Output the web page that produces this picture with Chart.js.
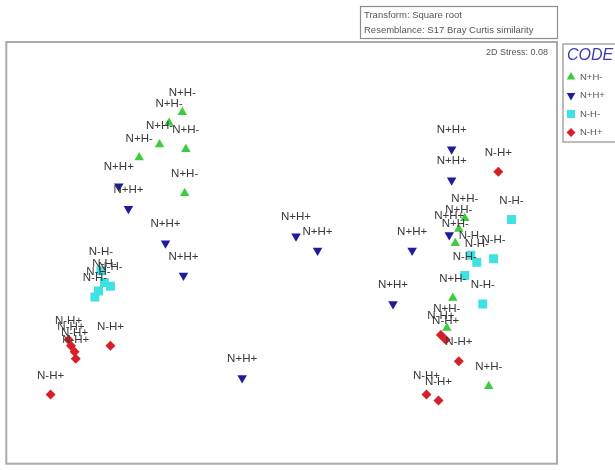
<!DOCTYPE html>
<html>
<head>
<meta charset="utf-8">
<script src="https://cdn.jsdelivr.net/npm/chart.js@4/dist/chart.umd.min.js"></script>
<style>
  html, body { margin: 0; padding: 0; background: #ffffff; }
  #wrap { width: 615px; height: 470px; position: relative; }
</style>
</head>
<body>
<div id="wrap"><canvas id="c" width="615" height="470"></canvas></div>
<script>
// nMDS ordination (2D), sample scores per CODE group
const groupNames = ['N+H-', 'N+H+', 'N-H-', 'N-H+'];

const npHmX = [-0.83, -0.94, -1.02, -0.80, -1.19, -0.81, 1.53, 1.48, 1.45, 1.43, 1.38, 1.73];
const npHmY = [ 1.18,  1.09,  0.91,  0.87,  0.80,  0.50, 0.29, 0.20, 0.08, -0.38, -0.63, -1.12];

const npHpX = [-1.36, -1.28, -0.97, -0.82, -0.33, 0.12, 0.30, 1.09, 0.93, 1.42, 1.42, 1.40];
const npHpY = [ 0.56,  0.37,  0.08, -0.19, -1.05, 0.14, 0.02, 0.02, -0.43, 0.87, 0.61, 0.15];

const nmHmX = [-1.51, -1.48, -1.43, -1.53, -1.56, 1.92, 1.58, 1.63, 1.77, 1.53, 1.68];
const nmHmY = [-0.15, -0.25, -0.28, -0.32, -0.37, 0.28, -0.02, -0.08, -0.05, -0.19, -0.43];

const nmHpX = [-1.78, -1.76, -1.73, -1.72, -1.43, -1.93, 1.81, 1.33, 1.37, 1.48, 1.21, 1.31];
const nmHpY = [-0.73, -0.78, -0.83, -0.89, -0.78, -1.19, 0.68, -0.69, -0.73, -0.91, -1.19, -1.24];

const headerLines = ['Transform: Square root', 'Resemblance: S17 Bray Curtis similarity'];
const stressText = '2D Stress: 0.08';
const legendTitle = 'CODE';

const groupColors = ['#3dcc3d', '#1c1c9c', '#3ee2e2', '#d81e28'];
const groupStyles = [
  { pointStyle: 'triangle', radius: 5.5, rotation: 0 },
  { pointStyle: 'triangle', radius: 5.5, rotation: 180 },
  { pointStyle: 'rect', radius: 6.3, rotation: 0 },
  { pointStyle: 'rectRot', radius: 5, rotation: 0 }
];

function pairs(xs, ys) { return xs.map((x, i) => ({ x: x, y: ys[i] })); }
const seriesData = [pairs(npHmX, npHmY), pairs(npHpX, npHpY), pairs(nmHmX, nmHmY), pairs(nmHpX, nmHpY)];

const datasets = groupNames.map((name, i) => ({
  label: name,
  data: seriesData[i],
  backgroundColor: groupColors[i],
  borderColor: groupColors[i],
  borderWidth: 0,
  pointStyle: groupStyles[i].pointStyle,
  pointRadius: groupStyles[i].radius,
  pointHoverRadius: groupStyles[i].radius,
  pointRotation: groupStyles[i].rotation,
  showLine: false
}));

function drawMarker(ctx, style, color, x, y) {
  ctx.save();
  ctx.fillStyle = color;
  ctx.strokeStyle = color;
  if (Chart.helpers && Chart.helpers.drawPoint) {
    Chart.helpers.drawPoint(ctx, {
      pointStyle: style.pointStyle, radius: style.radius,
      rotation: style.rotation, borderWidth: 0
    }, x, y);
  }
  ctx.restore();
}

// frame, header box, stress note, sample labels and the CODE key
const ordinationDecor = {
  id: 'ordinationDecor',
  beforeDraw(chart) {
    const ctx = chart.ctx;
    ctx.save();
    ctx.fillStyle = '#ffffff';
    ctx.fillRect(0, 0, chart.width, chart.height);
    ctx.restore();
  },
  afterDatasetsDraw(chart) {
    const ctx = chart.ctx;
    const a = chart.chartArea;

    // sample labels above each point
    ctx.save();
    ctx.font = '11.5px "Liberation Sans", Arial, sans-serif';
    ctx.fillStyle = '#383838';
    ctx.textAlign = 'center';
    ctx.textBaseline = 'middle';
    chart.data.datasets.forEach((ds, i) => {
      const meta = chart.getDatasetMeta(i);
      meta.data.forEach(pt => {
        ctx.fillText(ds.label, pt.x, pt.y - 19);
      });
    });
    ctx.restore();

    // plot frame
    ctx.save();
    ctx.strokeStyle = '#ababab';
    ctx.lineWidth = 2;
    ctx.strokeRect(a.left, a.top, a.right - a.left, a.bottom - a.top);
    ctx.restore();

    // header box
    ctx.save();
    ctx.strokeStyle = '#8c8c8c';
    ctx.lineWidth = 1.2;
    ctx.strokeRect(360.5, 6.5, a.right - 360, 32);
    ctx.font = '9.5px "Liberation Sans", Arial, sans-serif';
    ctx.fillStyle = '#555555';
    ctx.textAlign = 'left';
    ctx.textBaseline = 'middle';
    ctx.fillText(headerLines[0], 364, 15);
    ctx.fillText(headerLines[1], 364, 30);
    ctx.restore();

    // stress note
    ctx.save();
    ctx.font = '9px "Liberation Sans", Arial, sans-serif';
    ctx.fillStyle = '#555555';
    ctx.textAlign = 'right';
    ctx.textBaseline = 'middle';
    ctx.fillText(stressText, a.right - 9, a.top + 11);
    ctx.restore();

    // CODE key
    const lx = a.right + 6;
    ctx.save();
    ctx.strokeStyle = '#a6a6a6';
    ctx.lineWidth = 1.5;
    ctx.strokeRect(lx, a.top + 2, chart.width - lx + 5, 98);
    ctx.font = 'italic 16px "Liberation Sans", Arial, sans-serif';
    ctx.fillStyle = '#3c3cb0';
    ctx.textAlign = 'left';
    ctx.textBaseline = 'middle';
    ctx.fillText(legendTitle, lx + 4, a.top + 14);
    ctx.font = '9.5px "Liberation Sans", Arial, sans-serif';
    groupNames.forEach((name, i) => {
      const y = a.top + 35 + i * 18.5;
      const st = Object.assign({}, groupStyles[i], { radius: groupStyles[i].radius * 0.9 });
      drawMarker(ctx, st, groupColors[i], lx + 8, y);
      ctx.fillStyle = '#555555';
      ctx.fillText(name, lx + 17, y);
    });
    ctx.restore();
  }
};

new Chart(document.getElementById('c'), {
  type: 'scatter',
  data: { datasets: datasets },
  options: {
    responsive: false,
    animation: false,
    devicePixelRatio: 1,
    layout: { padding: { left: 5, top: 42, right: 58, bottom: 4 } },
    plugins: { legend: { display: false }, tooltip: { enabled: false }, title: { display: false } },
    scales: {
      x: { type: 'linear', min: -2.3, max: 2.3, display: false },
      y: { type: 'linear', min: -1.77, max: 1.77, display: false }
    }
  },
  plugins: [ordinationDecor]
});
</script>
</body>
</html>
